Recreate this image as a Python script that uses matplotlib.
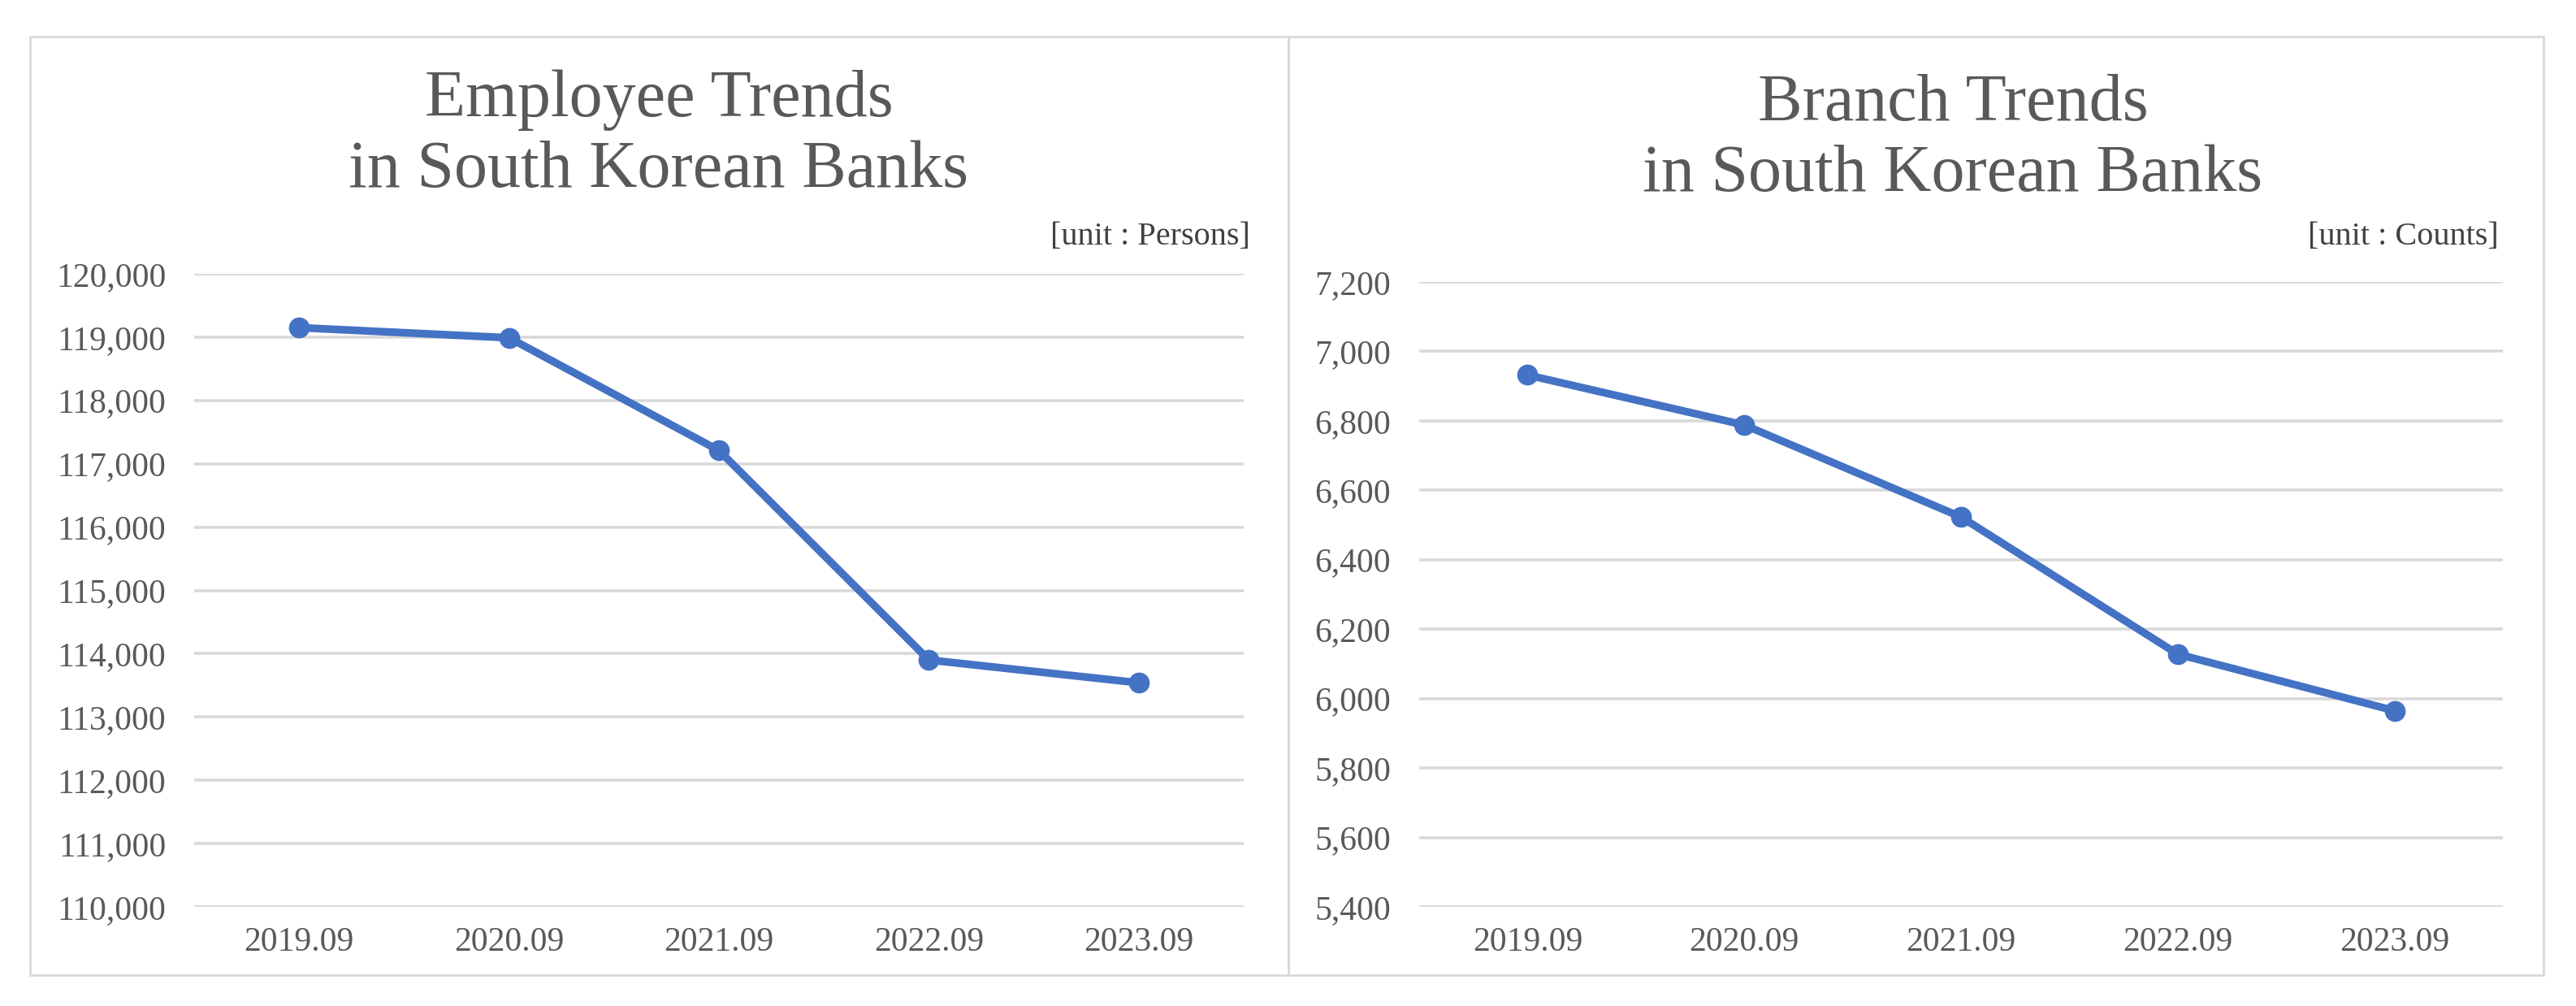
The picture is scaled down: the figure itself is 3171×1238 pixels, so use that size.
import matplotlib
matplotlib.use("Agg")
import matplotlib.pyplot as plt
from matplotlib.patches import Rectangle
from matplotlib.ticker import FuncFormatter

# ---- data ----
periods = ["2019.09", "2020.09", "2021.09", "2022.09", "2023.09"]
employees = [119150, 118990, 117210, 113900, 113540]
branches = [6932, 6788, 6523, 6128, 5965]

emp_ticks = [110000, 111000, 112000, 113000, 114000, 115000, 116000, 117000, 118000, 119000, 120000]
br_ticks = [5400, 5600, 5800, 6000, 6200, 6400, 6600, 6800, 7000, 7200]

title_left = "Employee Trends\nin South Korean Banks"
title_right = "Branch Trends\nin South Korean Banks"
unit_left = "[unit : Persons]"
unit_right = "[unit : Counts]"

W, H = 3171, 1238
DPI = 100
fig = plt.figure(figsize=(W / DPI, H / DPI), dpi=DPI)
fig.patch.set_facecolor("white")

FONT = ["Liberation Serif", "DejaVu Serif"]
TXT = "#595959"
GRID = "#D9D9D9"
BLUE = "#4472C4"


def fx(px):
    return px / W


def fy(py):
    return 1 - py / H


# panel borders
for (x0, x1) in [(37, 1586), (1586, 3131)]:
    fig.patches.append(Rectangle((fx(x0), fy(1200)), fx(x1 - x0), (1200 - 45) / H,
                                 transform=fig.transFigure, fill=False,
                                 edgecolor=GRID, linewidth=2.0, zorder=0))


def make_axes(left_px, right_px, top_px, bottom_px):
    return fig.add_axes([fx(left_px), fy(bottom_px), fx(right_px - left_px), (bottom_px - top_px) / H])


def style(ax, ticks, values):
    x = list(range(len(periods)))
    ax.plot(x, values, color=BLUE, linewidth=6.8, marker="o", markersize=17.5,
            solid_joinstyle="round", zorder=3, clip_on=False)
    ax.set_xlim(-0.5, len(periods) - 0.5)
    ax.set_ylim(ticks[0], ticks[-1])
    ax.set_yticks(ticks)
    ax.yaxis.set_major_formatter(FuncFormatter(lambda v, p: f"{int(v):,}"))
    ax.set_xticks(x)
    ax.set_xticklabels(periods)
    ax.grid(axis="y", color=GRID, linewidth=2.6, zorder=0)
    ax.set_axisbelow(True)
    for s in ax.spines.values():
        s.set_visible(False)
    ax.tick_params(axis="both", length=0, labelsize=30, labelcolor=TXT)
    ax.tick_params(axis="y", pad=25)
    ax.tick_params(axis="x", pad=18)
    for lab in ax.get_xticklabels() + ax.get_yticklabels():
        lab.set_family(FONT)


axL = make_axes(239, 1531, 337, 1116)
style(axL, emp_ticks, employees)
axR = make_axes(1747, 3081, 347, 1116)
style(axR, br_ticks, branches)

# titles
fig.text(fx(811), fy(167), title_left, ha="center", va="center", fontsize=59,
         color=TXT, family=FONT, linespacing=1.2)
fig.text(fx(2404), fy(172), title_right, ha="center", va="center", fontsize=59,
         color=TXT, family=FONT, linespacing=1.2)

# unit labels
fig.text(fx(1539), fy(292), unit_left, ha="right", va="center", fontsize=29,
         color="#404040", family=FONT)
fig.text(fx(3076), fy(292), unit_right, ha="right", va="center", fontsize=29,
         color="#404040", family=FONT)

fig.savefig("out.png", dpi=DPI, facecolor="white")
